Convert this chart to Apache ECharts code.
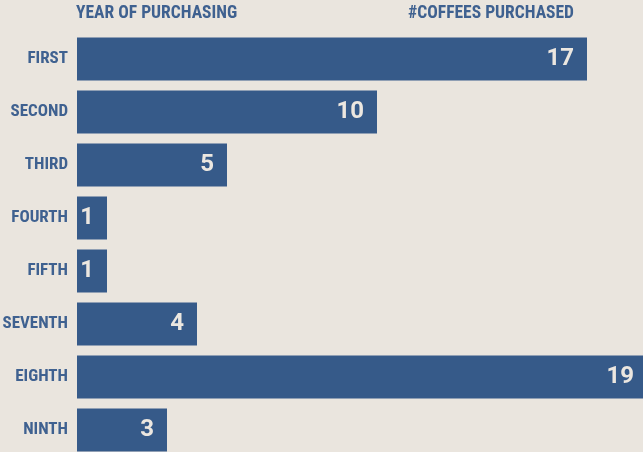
<!DOCTYPE html>
<html>
<head>
<meta charset="utf-8">
<script src="https://cdn.jsdelivr.net/npm/echarts@6/dist/echarts.min.js"></script>
<style>
html,body{margin:0;padding:0;background:#eae5de;}
#chart{width:643px;height:452px;}
</style>
</head>
<body>
<div id="chart"></div>
<script>
const categories = ['FIRST','SECOND','THIRD','FOURTH','FIFTH','SEVENTH','EIGHTH','NINTH'];
const coffees = [17, 10, 5, 1, 1, 4, 19, 3];
const headerLeft = 'YEAR OF PURCHASING';
const headerRight = '#COFFEES PURCHASED';

const chart = echarts.init(document.getElementById('chart'), null, {renderer:'canvas'});
const labelFont = '"Roboto Condensed", "Liberation Sans Narrow", sans-serif';
chart.setOption({
  backgroundColor: '#eae5de',
  animation: false,
  title: [
    {text: headerLeft, left: 76, top: 5, padding: 0, textStyle:{fontFamily: labelFont, fontWeight:'bold', fontSize:17.5, color:'#3f6190'}},
    {text: headerRight, right: 69, top: 5, padding: 0, textStyle:{fontFamily: labelFont, fontWeight:'bold', fontSize:17.5, color:'#3f6190'}}
  ],
  grid: {left: 77, right: -4, top: 32.5, bottom: -4.5, containLabel:false, outerBoundsMode:'none'},
  xAxis: {type:'value', min:0, max:19, show:false},
  yAxis: {
    type:'category', data: categories, inverse:true,
    axisLine:{show:false}, axisTick:{show:false},
    axisLabel:{fontFamily: labelFont, fontWeight:'bold', fontSize:17, color:'#3f6190', margin:9}
  },
  series: [{
    type:'bar', data: coffees, barCategoryGap:'19%',
    itemStyle:{color:'#365a89'},
    label:{show:true, position:'insideRight', distance:13,
      fontFamily:'Roboto, sans-serif', fontWeight:'bold', fontSize:24, color:'#ece7e0'}
  }]
});
</script>
</body>
</html>
